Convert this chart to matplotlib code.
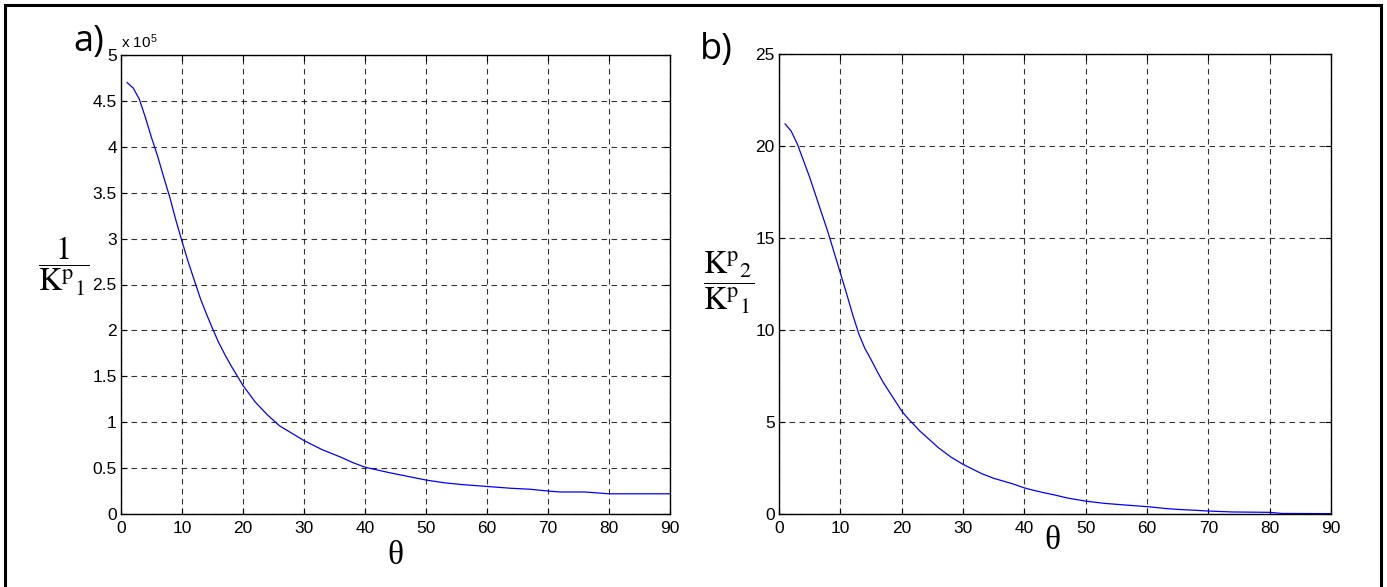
import matplotlib
matplotlib.use("Agg")
import matplotlib.pyplot as plt
from matplotlib.patches import Rectangle

# panel a) : 1/Kp1 (in units of 1e5) vs theta
theta_a = [1, 2, 3, 4, 5, 6, 7, 8, 9, 10, 11, 12, 13, 14, 15, 16, 17, 18, 20, 22, 24,
           25, 26, 28, 30, 33, 36, 38, 40, 44, 47, 50, 53, 56, 60, 64, 67, 70, 72, 76, 80, 85, 90]
inv_kp1 = [4.70, 4.64, 4.52, 4.32, 4.10, 3.90, 3.67, 3.45, 3.20, 2.97, 2.75, 2.55, 2.35,
           2.18, 2.02, 1.87, 1.74, 1.62, 1.40, 1.22, 1.08, 1.02, 0.96, 0.88, 0.80, 0.70,
           0.62, 0.56, 0.51, 0.45, 0.41, 0.37, 0.34, 0.32, 0.30, 0.28, 0.27, 0.25, 0.24,
           0.24, 0.22, 0.22, 0.22]

# panel b) : Kp2/Kp1 vs theta
theta_b = [1, 2, 3, 4, 5, 6, 7, 8, 9, 10, 11, 12, 13, 14, 15, 16, 17, 20, 21, 22, 23, 24,
           25, 26, 28, 30, 33, 35, 38, 40, 41, 43, 45, 47, 50, 53, 56, 60, 63, 65, 68, 70,
           74, 80, 82, 90]
kp2_kp1 = [21.2, 20.8, 20.1, 19.2, 18.3, 17.3, 16.3, 15.3, 14.2, 13.1, 12.0, 10.85, 9.8,
           9.0, 8.4, 7.75, 7.15, 5.6, 5.2, 4.85, 4.5, 4.2, 3.9, 3.6, 3.1, 2.7, 2.2, 1.94,
           1.65, 1.42, 1.33, 1.17, 1.03, 0.87, 0.70, 0.58, 0.50, 0.40, 0.30, 0.25, 0.20,
           0.16, 0.11, 0.09, 0.03, 0.02]

plt.rcParams['font.family'] = ['Liberation Sans', 'DejaVu Sans']
plt.rcParams['mathtext.fontset'] = 'stix'

fig = plt.figure(figsize=(13.87, 5.87), dpi=100)
W, H = 1387, 587

def box(l, t, r, b):
    return [l / W, 1 - b / H, (r - l) / W, (b - t) / H]

ax1 = fig.add_axes(box(121, 55, 670, 514))
ax2 = fig.add_axes(box(779, 54, 1331, 514))

for ax in (ax1, ax2):
    ax.set_xlim(0, 90)
    ax.set_xticks(range(0, 91, 10))
    ax.grid(True, color='black', linestyle=(0, (5, 4)), linewidth=0.8, alpha=0.8)
    ax.tick_params(direction='in', length=4, top=True, right=True, labelsize=12.5,
                   pad=3, width=0.8)
    ax.tick_params(axis='x', pad=5)
    for s in ax.spines.values():
        s.set_linewidth(1.0)

ax1.plot(theta_a, inv_kp1, color='#0000ff', linewidth=0.9)
ax1.set_ylim(0, 5)
ax1.set_yticks([0, 0.5, 1, 1.5, 2, 2.5, 3, 3.5, 4, 4.5, 5])
ax1.set_yticklabels(['0', '0.5', '1', '1.5', '2', '2.5', '3', '3.5', '4', '4.5', '5'])

ax2.plot(theta_b, kp2_kp1, color='#0000ff', linewidth=0.9)
ax2.set_ylim(0, 25)
ax2.set_yticks(range(0, 26, 5))

# exponent label
fig.text(121 / W, 1 - 42 / H, r'x 10$^{\mathregular{5}}$', fontsize=11, ha='left', va='center')

# panel letters
fig.text(89 / W, 1 - 42 / H, 'a)', fontsize=26, family=['Open Sans', 'DejaVu Sans'],
         ha='center', va='center')
fig.text(716 / W, 1 - 50 / H, 'b)', fontsize=26, family=['Open Sans', 'DejaVu Sans'],
         ha='center', va='center')

# axis labels
serif = ['Liberation Serif', 'DejaVu Serif']
fig.text(395 / W, 1 - 556 / H, 'θ', fontsize=24, family=serif, ha='center', va='center')
fig.text(1052 / W, 1 - 541 / H, 'θ', fontsize=24, family=serif, ha='center', va='center')
fig.text(64 / W, 1 - 266 / H, r'$\dfrac{1}{\mathrm{K}^{\mathrm{p}}{}_{1}}$', fontsize=23,
         ha='center', va='center')
fig.text(729 / W, 1 - 283 / H,
         r'$\dfrac{\mathrm{K}^{\mathrm{p}}{}_{2}}{\mathrm{K}^{\mathrm{p}}{}_{1}}$', fontsize=23,
         ha='center', va='center')

# outer frame
fig.patches.append(Rectangle((5 / W, -0.02), 1376 / W, 1.02 - 5 / H, transform=fig.transFigure,
                             fill=False, edgecolor='black', linewidth=2.2))

fig.savefig('out.png', dpi=100)
